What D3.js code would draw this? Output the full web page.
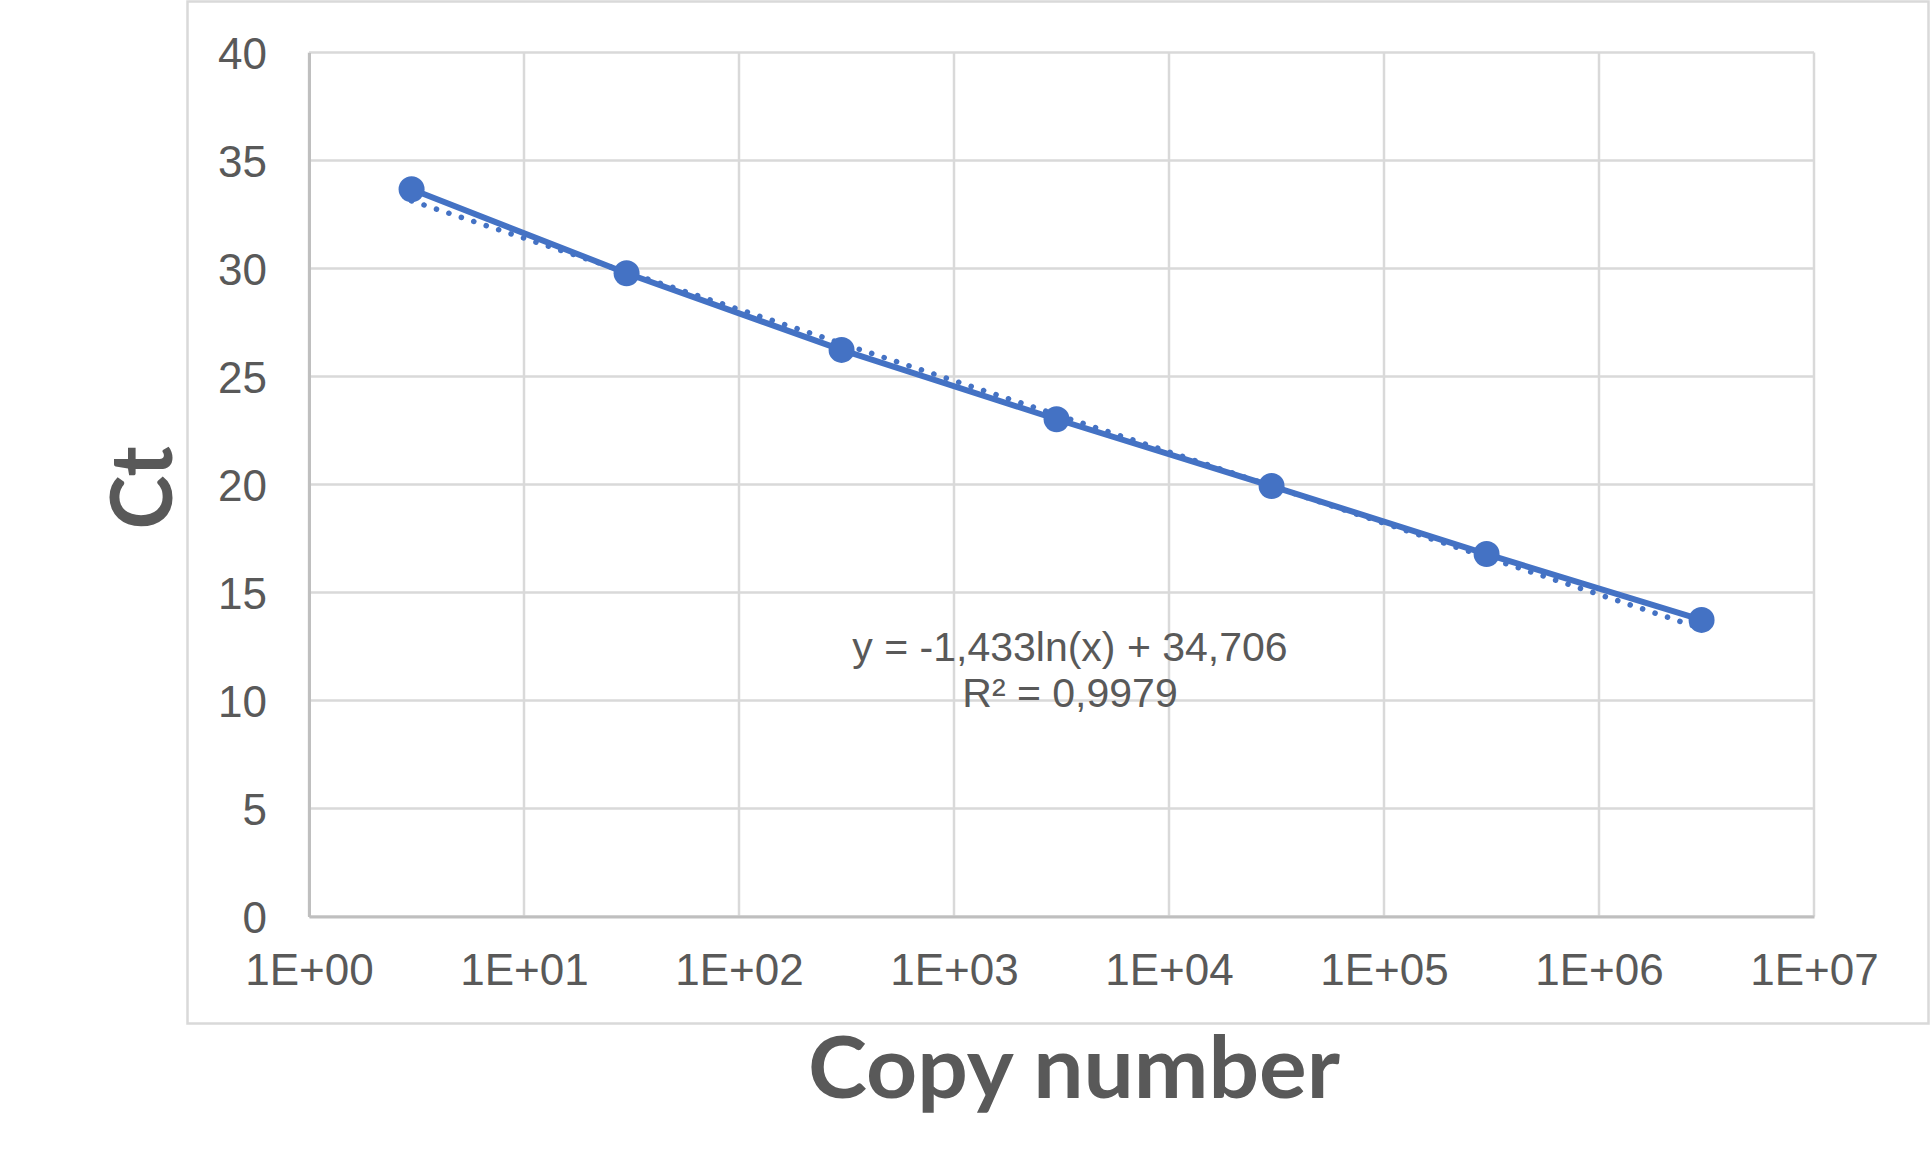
<!DOCTYPE html>
<html>
<head>
<meta charset="utf-8">
<script src="https://cdn.jsdelivr.net/npm/d3@7"></script>
<style>
  body { margin: 0; background: #fff; }
  text { fill: #595959; }
</style>
</head>
<body>
<script>
var width = 1932;
var height = 1158;

// data
var copyNumbers = [3, 30, 300, 3000, 30000, 300000, 3000000];
var ctValues = [33.67, 29.78, 26.23, 23.02, 19.93, 16.78, 13.73];
var xTicks = [1, 10, 100, 1000, 10000, 100000, 1000000, 10000000];
var xTickLabels = ["1E+00", "1E+01", "1E+02", "1E+03", "1E+04", "1E+05", "1E+06", "1E+07"];
var yTicks = [0, 5, 10, 15, 20, 25, 30, 35, 40];
// logarithmic trendline shown on the chart: y = a*ln(x) + b
var trendCoef = [-1.433, 34.706];
var trendRange = [3, 3000000];
var equationLines = ["y = -1,433ln(x) + 34,706", "R\u00b2 = 0,9979"];

var blue = "#4472C4";
var plot = {left: 309, right: 1814, top: 52.5, bottom: 916.5};

var svg = d3.select("body")
            .append("svg")
            .attr("width", width)
            .attr("height", height);

// chart area border
svg.append("rect")
  .attr("x", 187.5).attr("y", 1.5)
  .attr("width", 1741).attr("height", 1022)
  .attr("fill", "none")
  .attr("stroke", "#D9D9D9")
  .attr("stroke-width", 2.5);

var x = d3.scaleLog()
  .domain([1, 10000000])
  .range([plot.left, plot.right]);

var y = d3.scaleLinear()
  .domain([0, 40])
  .range([plot.bottom, plot.top]);

// gridlines
svg.append("g")
  .selectAll("line.hgrid")
  .data(yTicks)
  .enter().append("line")
  .attr("x1", plot.left).attr("x2", plot.right)
  .attr("y1", function(d) { return y(d); })
  .attr("y2", function(d) { return y(d); })
  .attr("stroke", "#D9D9D9")
  .attr("stroke-width", 2.5);

svg.append("g")
  .selectAll("line.vgrid")
  .data(xTicks)
  .enter().append("line")
  .attr("x1", function(d) { return x(d); })
  .attr("x2", function(d) { return x(d); })
  .attr("y1", plot.top).attr("y2", plot.bottom)
  .attr("stroke", "#D9D9D9")
  .attr("stroke-width", 2.5);

// axes lines + labels
var xAxis = d3.axisBottom(x)
  .tickValues(xTicks)
  .tickSize(0)
  .tickPadding(36)
  .tickFormat(function(d, i) { return xTickLabels[i]; });

var gx = svg.append("g")
  .attr("transform", "translate(0," + plot.bottom + ")")
  .call(xAxis);
gx.select(".domain").attr("stroke", "#BFBFBF").attr("stroke-width", 3);
gx.selectAll("text")
  .attr("font-family", "'Liberation Sans', Arial, sans-serif")
  .attr("font-size", 44)
  .attr("fill", "#595959")
  .attr("dy", null)
  .attr("y", 985 - plot.bottom);

var yAxis = d3.axisLeft(y)
  .tickValues(yTicks)
  .tickSize(0)
  .tickPadding(42);

var gy = svg.append("g")
  .attr("transform", "translate(" + plot.left + ",0)")
  .call(yAxis);
gy.select(".domain").attr("stroke", "#BFBFBF").attr("stroke-width", 3);
gy.selectAll("text")
  .attr("font-family", "'Liberation Sans', Arial, sans-serif")
  .attr("font-size", 44)
  .attr("fill", "#595959")
  .attr("dy", "0.36em");

// trendline (dotted)
var trendPts = trendRange.map(function(v) {
  return [v, trendCoef[0] * Math.log(v) + trendCoef[1]];
});
svg.append("line")
  .attr("x1", x(trendPts[0][0])).attr("y1", y(trendPts[0][1]))
  .attr("x2", x(trendPts[1][0])).attr("y2", y(trendPts[1][1]))
  .attr("stroke", blue)
  .attr("stroke-width", 5.5)
  .attr("stroke-linecap", "round")
  .attr("stroke-dasharray", "0.1 13");

// series line
var line = d3.line()
  .x(function(d, i) { return x(copyNumbers[i]); })
  .y(function(d) { return y(d); });

svg.append("path")
  .datum(ctValues)
  .attr("d", line)
  .attr("fill", "none")
  .attr("stroke", blue)
  .attr("stroke-width", 6)
  .attr("stroke-linejoin", "round");

svg.append("g")
  .selectAll("circle")
  .data(ctValues)
  .enter().append("circle")
  .attr("cx", function(d, i) { return x(copyNumbers[i]); })
  .attr("cy", function(d) { return y(d); })
  .attr("r", 13)
  .attr("fill", blue);

// trendline label
svg.append("g")
  .selectAll("text")
  .data(equationLines)
  .enter().append("text")
  .attr("x", 1070)
  .attr("y", function(d, i) { return 661 + i * 46; })
  .attr("text-anchor", "middle")
  .attr("font-family", "'Liberation Sans', Arial, sans-serif")
  .attr("font-size", 41)
  .text(function(d) { return d; });

// axis titles
svg.append("text")
  .attr("x", 1074)
  .attr("y", 1098)
  .attr("text-anchor", "middle")
  .attr("font-family", "Lato, 'Open Sans', sans-serif")
  .attr("font-weight", "bold")
  .attr("font-size", 86)
  .attr("textLength", 532)
  .attr("lengthAdjust", "spacingAndGlyphs")
  .text("Copy number");

svg.append("text")
  .attr("transform", "translate(171.5,488) rotate(-90)")
  .attr("text-anchor", "middle")
  .attr("font-family", "Lato, 'Open Sans', sans-serif")
  .attr("font-weight", "bold")
  .attr("font-size", 86)
  .attr("textLength", 83)
  .attr("lengthAdjust", "spacingAndGlyphs")
  .text("Ct");
</script>
</body>
</html>
